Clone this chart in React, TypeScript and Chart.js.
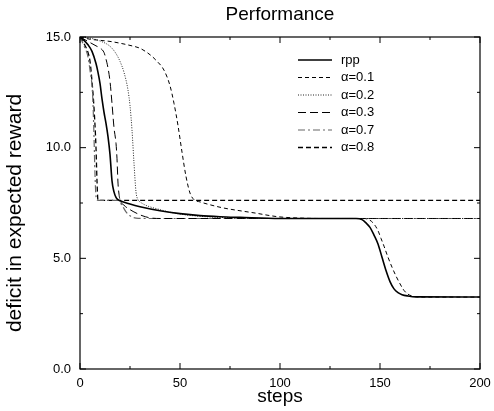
import React, { useEffect, useRef } from "react";
import { Chart, registerables } from "chart.js";

Chart.register(...registerables);

type P = { x: number; y: number };

const chartTitle = "Performance";
const xAxisTitle = "steps";
const yAxisTitle = "deficit in expected reward";
const seriesLabels = ["rpp", "α=0.1", "α=0.2", "α=0.3", "α=0.7", "α=0.8"];

const rppSteps = [0, 2, 4, 6, 8, 9, 10, 11, 12, 13, 14, 15, 16, 17, 18, 19, 20, 25, 30, 40, 50, 60, 70, 80, 100, 138, 141, 143, 145, 147, 149, 151, 153, 155, 157, 159, 161, 164, 168, 200];
const rppValues = [15, 14.85, 14.65, 14.35, 13.8, 13.4, 12.9, 12.2, 11.6, 11.1, 10.5, 9.7, 8.5, 8.0, 7.75, 7.65, 7.6, 7.45, 7.33, 7.15, 7.02, 6.93, 6.88, 6.85, 6.8, 6.8, 6.75, 6.6, 6.4, 6.05, 5.65, 5.05, 4.45, 3.95, 3.62, 3.45, 3.36, 3.3, 3.26, 3.25];

const a01Steps = [0, 5, 10, 15, 20, 25, 30, 35, 38, 42, 45, 47, 49, 51, 53, 55, 57, 60, 65, 72, 80, 88, 95, 100, 110, 120, 142, 145, 147, 149, 150.5, 152, 154, 156, 158, 160, 162, 164, 166, 170, 200];
const a01Values = [15, 14.9, 14.85, 14.8, 14.72, 14.62, 14.49, 14.2, 13.95, 13.5, 12.8, 12.0, 11.0, 9.8, 8.7, 7.95, 7.65, 7.55, 7.42, 7.27, 7.15, 7.04, 6.93, 6.87, 6.82, 6.8, 6.8, 6.72, 6.55, 6.25, 5.9, 5.55, 5.05, 4.6, 4.2, 3.85, 3.55, 3.38, 3.3, 3.25, 3.25];

const a02Steps = [0, 5, 10, 15, 18, 20, 22, 24, 25, 26, 27, 28, 29, 30, 40, 50, 60, 80, 100, 200];
const a02Values = [15, 14.95, 14.82, 14.58, 14.25, 13.9, 13.4, 12.6, 11.9, 10.8, 9.3, 8.0, 7.65, 7.55, 7.2, 7.0, 6.9, 6.82, 6.8, 6.8];

const a03Steps = [0, 4, 8, 10, 12, 13, 14, 15, 16, 17, 18, 18.5, 19, 19.5, 20, 22, 25, 28, 31, 35, 40, 200];
const a03Values = [15, 14.8, 14.6, 14.5, 14.3, 14.0, 13.6, 13.0, 12.0, 10.9, 10.2, 9.5, 8.4, 7.9, 7.65, 7.4, 7.2, 7.05, 6.93, 6.83, 6.8, 6.8];

const a07Steps = [0, 2, 4, 5, 6, 6.5, 7, 7.5, 8, 9, 19, 21, 23, 25, 28, 35, 200];
const a07Values = [15, 14.6, 14.1, 13.5, 12.8, 12.0, 10.5, 8.8, 7.8, 7.62, 7.62, 7.4, 7.1, 6.92, 6.82, 6.8, 6.8];

const a08Steps = [0, 2, 4, 5, 6, 7, 8, 8.5, 9, 200];
const a08Values = [15, 14.7, 14.3, 13.9, 13.0, 11.8, 10.0, 8.5, 7.62, 7.62];

const xMajorTicks = [0, 50, 100, 150, 200];
const xMinorTicks = [25, 75, 125, 175];
const yMajorTicks = [0, 5, 10, 15];
const yMinorTicks = [2.5, 7.5, 12.5];

const toPoints = (xs: number[], ys: number[]): P[] => xs.map((x, i) => ({ x, y: ys[i] }));

const FONT = "'Liberation Sans', Arial, Helvetica, sans-serif";

const framePlugin = {
  id: "frameTicks",
  afterDraw(chart: any) {
    const { ctx, chartArea } = chart;
    const { left, right, top, bottom } = chartArea;
    const xs = chart.scales.x;
    const ys = chart.scales.y;
    ctx.save();
    ctx.strokeStyle = "#000";
    ctx.lineWidth = 1.2;
    ctx.setLineDash([]);
    ctx.strokeRect(left, top, right - left, bottom - top);
    ctx.lineWidth = 1;
    const tick = (vals: number[], len: number) => {
      vals.forEach((v) => {
        const px = xs.getPixelForValue(v);
        ctx.beginPath();
        ctx.moveTo(px, bottom);
        ctx.lineTo(px, bottom - len);
        ctx.moveTo(px, top);
        ctx.lineTo(px, top + len);
        ctx.stroke();
      });
    };
    const ytick = (vals: number[], len: number) => {
      vals.forEach((v) => {
        const py = ys.getPixelForValue(v);
        ctx.beginPath();
        ctx.moveTo(left, py);
        ctx.lineTo(left + len, py);
        ctx.moveTo(right, py);
        ctx.lineTo(right - len, py);
        ctx.stroke();
      });
    };
    tick(xMajorTicks, 6);
    tick(xMinorTicks, 3);
    ytick(yMajorTicks, 6);
    ytick(yMinorTicks, 3);

    // titles
    const cx = (left + right) / 2;
    ctx.fillStyle = "#000";
    ctx.textAlign = "center";
    ctx.textBaseline = "middle";
    ctx.font = `19px ${FONT}`;
    ctx.fillText(chartTitle, cx, 15);
    ctx.font = `19px ${FONT}`;
    ctx.fillText(xAxisTitle, cx, 397);
    ctx.save();
    ctx.translate(15, (top + bottom) / 2 + 10);
    ctx.rotate(-Math.PI / 2);
    ctx.font = `21px ${FONT}`;
    ctx.fillText(yAxisTitle, 0, 0);
    ctx.restore();

    // legend inside plot
    const lx0 = left + 218;
    const lx1 = left + 252;
    const tx = left + 261;
    let ly = top + 23;
    ctx.font = `13px ${FONT}`;
    ctx.textBaseline = "middle";
    ctx.textAlign = "left";
    chart.data.datasets.forEach((ds: any) => {
      ctx.save();
      ctx.strokeStyle = ds.borderColor;
      ctx.lineWidth = ds.borderWidth;
      ctx.setLineDash(ds.borderDash || []);
      ctx.beginPath();
      ctx.moveTo(lx0, ly);
      ctx.lineTo(lx1, ly);
      ctx.stroke();
      ctx.restore();
      ctx.fillStyle = "#000";
      ctx.fillText(ds.label, tx, ly);
      ly += 17.5;
    });
    ctx.restore();
  },
};

export default function App() {
  const ref = useRef<HTMLCanvasElement | null>(null);
  useEffect(() => {
    document.body.style.margin = "0";
    const canvas = ref.current;
    if (!canvas) return;
    const mk = (label: string, data: P[], color: string, width: number, dash: number[]) => ({
      label,
      data,
      borderColor: color,
      backgroundColor: color,
      borderWidth: width,
      borderDash: dash,
      pointRadius: 0,
      fill: false,
      cubicInterpolationMode: "monotone" as const,
    });
    const chart = new Chart(canvas, {
      type: "line",
      data: {
        datasets: [
          mk(seriesLabels[0], toPoints(rppSteps, rppValues), "#000", 1.6, []),
          mk(seriesLabels[1], toPoints(a01Steps, a01Values), "#000", 1, [4, 3]),
          mk(seriesLabels[2], toPoints(a02Steps, a02Values), "#222", 1, [1, 1.5]),
          mk(seriesLabels[3], toPoints(a03Steps, a03Values), "#000", 1, [8, 4]),
          mk(seriesLabels[4], toPoints(a07Steps, a07Values), "#666", 1.2, [7, 3, 2, 3]),
          mk(seriesLabels[5], toPoints(a08Steps, a08Values), "#000", 1.3, [5, 3]),
        ],
      },
      options: {
        animation: false,
        responsive: false,
        devicePixelRatio: 1,
        layout: { padding: { left: 0, right: 14, top: 37, bottom: 0 } },
        plugins: {
          legend: { display: false },
          tooltip: { enabled: false },
          title: { display: false },
        },
        scales: {
          x: {
            type: "linear",
            min: 0,
            max: 200,
            grid: { display: false, drawTicks: false },
            border: { display: false },
            ticks: {
              stepSize: 50,
              color: "#000",
              padding: 7,
              maxRotation: 0,
              font: { family: FONT, size: 13 },
            },
            afterFit: (s: any) => {
              s.height = 42;
              s.paddingLeft = 0;
              s.paddingRight = 0;
            },
          },
          y: {
            type: "linear",
            min: 0,
            max: 15,
            grid: { display: false, drawTicks: false },
            border: { display: false },
            ticks: {
              stepSize: 5,
              color: "#000",
              padding: 9,
              font: { family: FONT, size: 13 },
              callback: (v: any) => Number(v).toFixed(1),
            },
            afterFit: (s: any) => {
              s.width = 80;
              s.paddingTop = 0;
              s.paddingBottom = 0;
            },
          },
        },
      },
      plugins: [framePlugin],
    });
    return () => chart.destroy();
  }, []);
  return <canvas ref={ref} width={494} height={411} style={{ display: "block" }} />;
}
